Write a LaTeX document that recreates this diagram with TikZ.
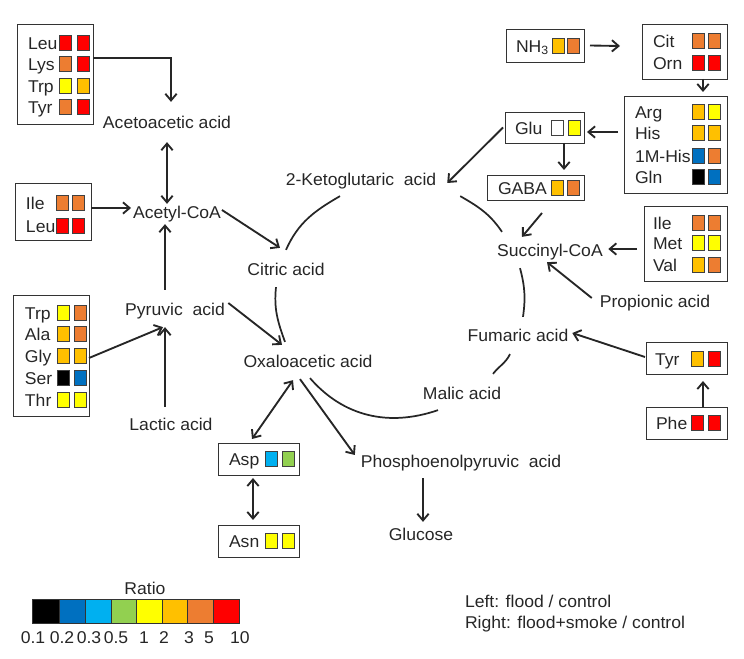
\documentclass[tikz,border=0pt]{standalone}
\usepackage{fontspec}
\setmainfont[FakeStretch=1.03]{Liberation Sans}
\usetikzlibrary{arrows.meta,calc}
\newcommand\mainsz{\fontsize{12.8}{14}\selectfont}
\definecolor{cK}{HTML}{000000}
\definecolor{cB}{HTML}{0070C0}
\definecolor{cL}{HTML}{00B0F0}
\definecolor{cG}{HTML}{92D050}
\definecolor{cY}{HTML}{FFFF00}
\definecolor{cGold}{HTML}{FFC000}
\definecolor{cOr}{HTML}{ED7D31}
\definecolor{cRed}{HTML}{FF0000}
\definecolor{cW}{HTML}{FFFFFF}
\definecolor{ink}{HTML}{262626}
\newcommand\sqbox[3]{\draw[sqr,fill=#3] (#1-6,-#2-7.5) rectangle (#1+6,-#2+7.5);}
\newcommand\arow[8]{%
  \node[lbl,anchor=west] (#1) at (#2,-#3) {#4};%
  \sqbox{#5}{#3}{#7}\sqbox{#6}{#3}{#8}}
\newcommand\frm[5]{\node[frame,minimum width={(#4-#2)*0.75pt},minimum height={(#5-#3)*0.75pt}] (#1) at ({(#2+#4)/2},{-(#3+#5)/2}) {};}
\begin{document}
\begin{tikzpicture}[x=0.75pt,y=0.75pt,
  lbl/.style={inner sep=0pt,outer sep=0pt,text height=9.2pt,text depth=0pt,font=\mainsz,text=ink},
  frame/.style={draw=black!80,line width=0.7pt,inner sep=0pt,outer sep=0pt},
  sqr/.style={draw=black!75,line width=0.45pt},
  cell/.style={draw=black!80,line width=0.5pt},
  arr/.style={draw=ink,line width=1.4pt,-{Straight Barb[length=5pt,width=8.5pt]}},
  darr/.style={draw=ink,line width=1.4pt,{Straight Barb[length=5pt,width=8.5pt]}-{Straight Barb[length=5pt,width=8.5pt]}},
  cyc/.style={draw=ink,line width=1.3pt}]
\useasboundingbox (0,0) rectangle (744,-659);

% ---- frames
\frm{tlb}{17}{24}{93}{124}
\frm{ilb}{15}{183}{91}{240}
\frm{pyb}{13}{295}{89}{416}
\frm{nhb}{506}{29}{584}{62}
\frm{cob}{642}{24}{727}{79}
\frm{agb}{624}{96}{727}{193}
\frm{glb}{505}{112}{584}{143}
\frm{gab}{487}{175}{584}{200}
\frm{imb}{644}{206}{727}{281}
\frm{tyb}{646}{342}{727}{374}
\frm{phb}{646}{407}{727}{439}
\frm{asb}{218}{443}{299}{475}
\frm{anb}{218}{525}{299}{557}

% ---- box rows
\arow{tl1}{28}{43}{Leu}{65}{83}{cRed}{cRed}
\arow{tl2}{28}{64}{Lys}{65}{83}{cOr}{cRed}
\arow{tl3}{28}{86}{Trp}{65}{83}{cY}{cGold}
\arow{tl4}{28}{107}{Tyr}{65}{83}{cOr}{cRed}

\arow{il1}{26}{203}{Ile}{62}{78}{cOr}{cOr}
\arow{il2}{26}{226}{Leu}{62}{78}{cRed}{cRed}

\arow{py1}{25}{313}{Trp}{63}{80}{cY}{cOr}
\arow{py2}{25}{334}{Ala}{63}{80}{cGold}{cOr}
\arow{py3}{25}{356}{Gly}{63}{80}{cGold}{cGold}
\arow{py4}{25}{378}{Ser}{63}{80}{cK}{cB}
\arow{py5}{25}{400}{Thr}{63}{80}{cY}{cY}

\arow{nh1}{516}{46}{NH\textsubscript{3}}{558}{573}{cGold}{cOr}
\arow{co1}{653}{41}{Cit}{698}{714}{cOr}{cOr}
\arow{co2}{653}{63}{Orn}{698}{714}{cRed}{cRed}
\arow{ag1}{635}{112}{Arg}{698}{714}{cGold}{cY}
\arow{ag2}{635}{133}{His}{698}{714}{cGold}{cGold}
\arow{ag3}{635}{156}{1M-His}{698}{714}{cB}{cOr}
\arow{ag4}{635}{177}{Gln}{698}{714}{cK}{cB}
\arow{gl1}{515}{128}{Glu}{557}{574}{cW}{cY}
\arow{ga1}{498}{188}{GABA}{557}{573}{cGold}{cOr}
\arow{im1}{653}{223}{Ile}{698}{714}{cOr}{cOr}
\arow{im2}{653}{243}{Met}{698}{714}{cY}{cY}
\arow{im3}{653}{265}{Val}{698}{714}{cGold}{cOr}
\arow{ty1}{655}{359}{Tyr}{697}{714}{cGold}{cRed}
\arow{ph1}{656}{423}{Phe}{697}{714}{cRed}{cRed}
\arow{as1}{229}{459}{Asp}{271}{288}{cL}{cG}
\arow{an1}{229}{541}{Asn}{271}{288}{cY}{cY}

% ---- metabolites
\node[lbl] (aceto)   at (167,-122) {Acetoacetic acid};
\node[lbl] (acetyl)  at (177,-212) {Acetyl-CoA};
\node[lbl] (pyr)     at (175,-309) {Pyruvic\ \ acid};
\node[lbl] (lactic)  at (171,-424) {Lactic acid};
\node[lbl] (citric)  at (286,-269) {Citric acid};
\node[lbl] (keto)    at (361,-179) {2-Ketoglutaric\ \ acid};
\node[lbl] (oxalo)   at (308,-361) {Oxaloacetic acid};
\node[lbl] (succ)    at (550,-250) {Succinyl-CoA};
\node[lbl] (fum)     at (518,-335) {Fumaric acid};
\node[lbl] (malic)   at (462,-393) {Malic acid};
\node[lbl] (prop)    at (655,-301) {Propionic acid};
\node[lbl] (pep)     at (461,-461) {Phosphoenolpyruvic\ \ acid};
\node[lbl] (glucose) at (421,-534) {Glucose};

% ---- TCA cycle arcs
\draw[cyc] ($(citric.north)+(0,13)$) to[out=66,in=210] ($(keto.south)+(-21,-11)$);
\draw[cyc] ($(keto.south east)+(24,-11)$) to[out=-30,in=124] ($(succ.north)+(-48,12)$);
\draw[cyc] ($(succ.south)+(-30,-12)$) to[out=-75,in=82] ($(fum.north)+(5,12)$);
\draw[cyc] ($(fum.south)+(-8,-13)$) to[out=-116,in=52] ($(malic.north)+(31,13)$);
\draw[cyc] ($(malic.south)+(-24,-11)$) to[out=-161,in=-49] ($(oxalo.south)+(2,-11)$);
\draw[cyc] ($(oxalo.north)+(-23,13)$) to[out=110,in=264] ($(citric.south)+(-10,-12)$);

% ---- connectors left
\draw[arr] ($(tlb.east)+(0,16)$) -| ($(aceto.north)+(4,14)$);
\draw[darr] ($(aceto.south)+(0,-14)$) -- ($(aceto.south |- acetyl.north)+(0,2)$);
\draw[arr] ($(ilb.east)+(0,3.5)$) -- ($(acetyl.west)+(-2,4)$);
\draw[arr] ($(pyr.north)+(-10,13)$) -- ($(acetyl.south)+(-12,-6)$);
\draw[arr] ($(lactic.north)+(-6,11)$) -- ($(pyr.south)+(-10,-12)$);
\draw[arr] ($(pyb.east)+(0,-2.5)$) -- ($(pyr.south)+(-12,-12)$);
\draw[arr] ($(acetyl.east)+(1,2)$) -- ($(citric.north)+(-6,15)$);
\draw[arr] ($(pyr.east)+(3.5,6)$) -- ($(oxalo.north)+(-26,10)$);

% ---- connectors bottom
\draw[darr] ($(oxalo.south)+(-15,-13)$) -- ($(asb.north)+(-6.5,4)$);
\draw[arr] ($(oxalo.south)+(-8,-12)$) -- ($(pep.west)+(-6,6)$);
\draw[darr] ($(asb.south)+(-5.5,-3)$) -- ($(anb.north)+(-5.5,5)$);
\draw[arr] ($(pep.south)+(-38,-11)$) -- ($(glucose.north)+(2,6)$);

% ---- connectors right
\draw[arr] ($(nhb.east)+(6,0)$) -- ($(cob.west)+(-22,5.5)$);
\draw[arr] ($(cob.south)+(18.5,0)$) -- ($(agb.north)+(27.5,4)$);
\draw[arr] ($(agb.west)+(-6,12.5)$) -- ($(glb.east)+(3,-4.5)$);
\draw[arr] ($(glb.south)+(19.5,0)$) -- ($(gab.north)+(28.5,5)$);
\draw[arr] ($(glb.west)+(-2,0)$) -- ($(keto.east)+(11,-4)$);
\draw[arr] ($(gab.south)+(6.5,-13)$) -- ($(succ.north)+(-28,7)$);
\draw[arr] ($(imb.west)+(-7,-5.5)$) -- ($(succ.east)+(5.5,1)$);
\draw[arr] ($(prop.west)+(-8,3)$) -- ($(succ.south)+(-3,-6)$);
\draw[arr] ($(tyb.west)+(-1,1)$) -- ($(fum.east)+(4,2)$);
\draw[arr] ($(phb.north)+(16.5,0)$) -- ($(tyb.south)+(16.5,-7)$);

% ---- legend
\node[lbl] (ratio) at (145,-588) {Ratio};
\foreach \xa/\xb/\c in {32/59/cK,59/85/cB,85/111/cL,111/136/cG,136/162/cY,162/187/cGold,187/213/cOr,213/239/cRed}
  \draw[cell,fill=\c] (\xa,-599) rectangle (\xb,-623);
\foreach \x/\t [count=\i] in {33/0.1,62/0.2,89/0.3,116/0.5,144/1,164/2,189/3,209/5,240/10}
  \node[lbl] (tick\i) at (\x,-637) {\t};
\node[lbl,anchor=west] (leg1) at (465,-601) {Left: flood / control};
\node[lbl,anchor=west] (leg2) at (465,-622) {Right: flood+smoke / control};
\end{tikzpicture}
\end{document}
